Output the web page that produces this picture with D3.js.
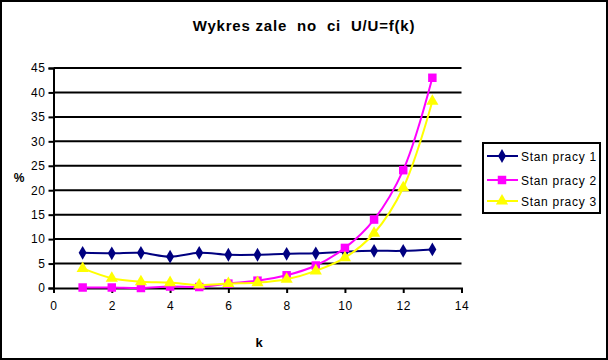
<!DOCTYPE html>
<html>
<head>
<meta charset="utf-8">
<script src="https://cdn.jsdelivr.net/npm/d3@7"></script>
<style>
  body { margin: 0; background: #fff; }
  svg { display: block; font-family: "Liberation Sans", Arial, sans-serif; }
</style>
</head>
<body>
<div id="chart"></div>
<script>
// dane
const kValues = [1, 2, 3, 4, 5, 6, 7, 8, 9, 10, 11, 12, 13];
const stan1 = [7.2, 7.1, 7.2, 6.4, 7.2, 6.8, 6.8, 7.0, 7.1, 7.4, 7.6, 7.6, 7.9];
const stan2 = [0.1, 0.1, 0.0, 0.3, 0.2, 0.9, 1.5, 2.6, 4.6, 8.2, 14.0, 24.1, 43.0];
const stan3 = [4.0, 2.0, 1.3, 1.1, 0.6, 0.9, 1.1, 1.8, 3.5, 6.2, 11.2, 20.5, 38.2];
const seriesNames = ['Stan pracy 1', 'Stan pracy 2', 'Stan pracy 3'];
const xTicks = [0, 2, 4, 6, 8, 10, 12, 14];
const yTicks = [0, 5, 10, 15, 20, 25, 30, 35, 40, 45];

const width = 608, height = 360;
const plot = { left: 53.5, right: 461.5, top: 68, bottom: 288 };

const series = [
    { name: seriesNames[0], values: stan1, color: '#000080', symbol: d3.symbolDiamond, size: 55 },
    { name: seriesNames[1], values: stan2, color: '#ff00ff', symbol: d3.symbolSquare, size: 72 },
    { name: seriesNames[2], values: stan3, color: '#ffff00', symbol: d3.symbolTriangle, size: 64 }
];

const svg = d3.select('#chart').append('svg')
    .attr('width', width)
    .attr('height', height);

// ramka
svg.append('rect')
    .attr('x', 1).attr('y', 1)
    .attr('width', width - 2).attr('height', height - 2)
    .attr('fill', '#fff')
    .attr('stroke', '#000')
    .attr('stroke-width', 2);

const x = d3.scaleLinear().domain([0, 14]).range([plot.left, plot.right]);
const y = d3.scaleLinear().domain([0, 45]).range([plot.bottom, plot.top]);

// tytuł
svg.append('text')
    .attr('x', 304).attr('y', 31)
    .attr('text-anchor', 'middle')
    .style('font-size', '15px')
    .style('font-weight', 'bold')
    .style('letter-spacing', '0.8px')
    .style('white-space', 'pre')
    .text('Wykres zale  no  ci  U/U=f(k)');

// linie siatki
svg.append('g')
    .selectAll('line')
    .data(yTicks.filter(d => d > 0))
    .join('line')
    .attr('x1', plot.left).attr('x2', plot.right)
    .attr('y1', d => y(d)).attr('y2', d => y(d))
    .attr('stroke', '#000')
    .attr('stroke-width', 2);

// oś Y
const yAxis = svg.append('g')
    .attr('transform', `translate(${plot.left},0)`)
    .call(d3.axisLeft(y).tickValues(yTicks).tickSize(5).tickPadding(3));
yAxis.select('.domain').attr('stroke-width', 2);
yAxis.selectAll('.tick line').attr('stroke-width', 2);
yAxis.selectAll('.tick text').style('font-size', '12px').style('letter-spacing', '0.6px')
    .style('font-family', '"Liberation Sans", Arial, sans-serif');

// oś X
const xAxis = svg.append('g')
    .attr('transform', `translate(0,${plot.bottom})`)
    .call(d3.axisBottom(x).tickValues(xTicks).tickSize(5).tickPadding(8));
xAxis.select('.domain').attr('stroke-width', 2);
xAxis.selectAll('.tick line').attr('stroke-width', 2);
xAxis.selectAll('.tick text').style('font-size', '12px').style('letter-spacing', '0.6px')
    .style('font-family', '"Liberation Sans", Arial, sans-serif');

// tytuły osi
svg.append('text')
    .attr('x', 19).attr('y', 182)
    .attr('text-anchor', 'middle')
    .style('font-size', '12px')
    .style('font-weight', 'bold')
    .text('%');
svg.append('text')
    .attr('x', 259).attr('y', 347)
    .attr('text-anchor', 'middle')
    .style('font-size', '13px')
    .style('font-weight', 'bold')
    .text('k');

// serie
const line = d3.line()
    .x((d, i) => x(kValues[i]))
    .y(d => y(d))
    .curve(d3.curveCatmullRom.alpha(0.5));

series.forEach(s => {
    svg.append('path')
        .datum(s.values)
        .attr('fill', 'none')
        .attr('stroke', s.color)
        .attr('stroke-width', 2)
        .attr('d', line);

    svg.append('g')
        .selectAll('path')
        .data(s.values)
        .join('path')
        .attr('transform', (d, i) => `translate(${x(kValues[i])},${y(d)})`)
        .attr('d', d3.symbol().type(s.symbol).size(s.size))
        .attr('fill', s.color);
});

// legenda
const legend = svg.append('g');
legend.append('rect')
    .attr('x', 483).attr('y', 143)
    .attr('width', 117).attr('height', 70)
    .attr('fill', '#fff')
    .attr('stroke', '#000')
    .attr('stroke-width', 2);

const legendY = [156, 180, 201];
series.forEach((s, i) => {
    const g = legend.append('g').attr('transform', `translate(0,${legendY[i]})`);
    g.append('line')
        .attr('x1', 487).attr('x2', 518)
        .attr('stroke', s.color)
        .attr('stroke-width', 2);
    g.append('path')
        .attr('transform', 'translate(502,0)')
        .attr('d', d3.symbol().type(s.symbol).size(s.size))
        .attr('fill', s.color);
    g.append('text')
        .attr('x', 521).attr('y', 4.5)
        .style('font-size', '12px')
        .style('letter-spacing', '0.7px')
        .text(s.name);
});
</script>
</body>
</html>
